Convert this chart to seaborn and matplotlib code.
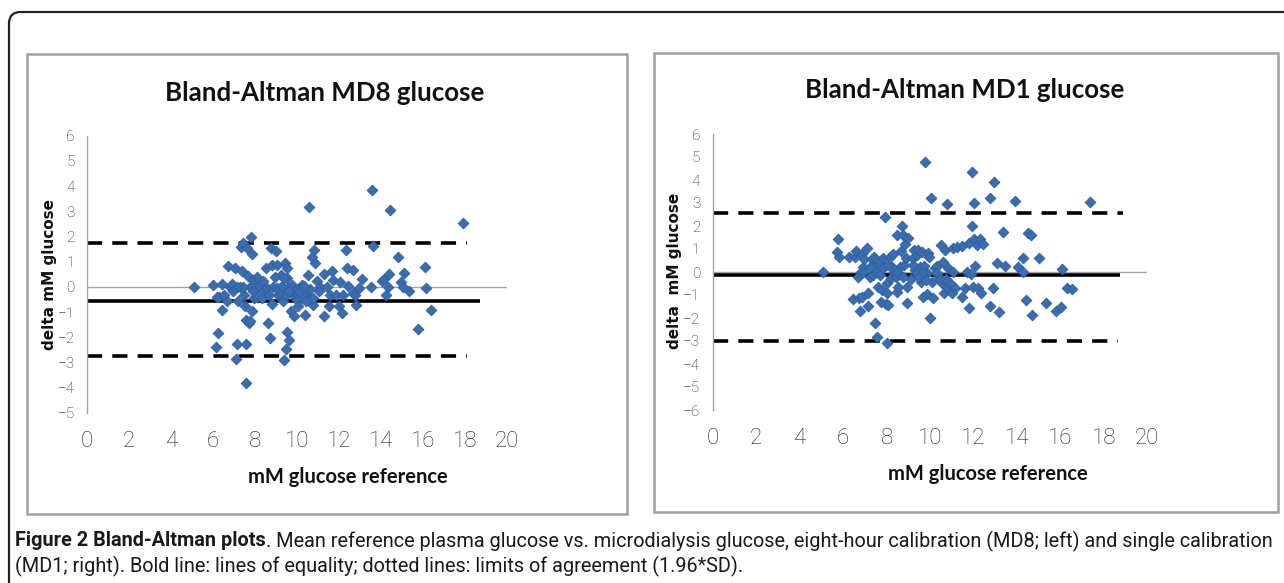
import numpy as np
import pandas as pd
import matplotlib
matplotlib.use("Agg")
import matplotlib.pyplot as plt
import seaborn as sns
from matplotlib.patches import FancyBboxPatch, Rectangle

# ---------------- data ----------------
md8_ref = [5.1, 6.0, 6.13, 6.26, 6.2, 6.3, 6.45, 6.45, 6.5, 6.65, 6.73, 6.8, 6.9, 7.05, 7.1, 7.13,
           7.2, 7.3, 7.32, 7.37, 7.42, 7.48, 7.53, 7.55, 7.57, 7.55, 7.6, 7.65, 7.73, 7.76, 7.81,
           7.84, 7.88, 7.92, 7.95, 8.08, 8.1, 8.24, 8.37, 8.51, 8.64, 8.72, 8.75, 8.8, 8.83, 8.95,
           9.0, 9.06, 9.11, 9.22, 9.32, 9.37, 9.43, 9.46, 9.5, 9.5, 9.54, 9.64, 9.7, 9.79, 9.86,
           9.98, 10.06, 10.14, 10.25, 10.38, 10.49, 10.54, 10.59, 10.7, 10.75, 10.81, 10.86, 10.94,
           11.1, 11.28, 11.28, 11.41, 11.52, 11.57, 11.65, 11.73, 11.85, 12.01, 12.07, 12.12, 12.2,
           12.33, 12.39, 12.41, 12.65, 12.68, 12.8, 12.76, 12.96, 13.1, 13.55, 13.52, 13.6, 14.07,
           14.14, 14.22, 14.31, 14.36, 14.42, 14.79, 14.93, 15.06, 15.09, 15.34, 15.77, 16.09,
           16.12, 16.4, 17.91,
           8.16, 8.4, 8.56, 8.87, 9.19, 9.35, 9.59, 9.75, 9.9, 10.22, 10.3, 10.42, 10.62, 10.78,
           11.03, 7.77, 7.45, 7.13, 6.97, 7.92, 8.32, 8.68, 9.03, 9.27, 9.38, 9.48, 9.64, 9.98,
           10.1, 10.33]
md8_delta = [0.0, 0.07, -2.39, -1.82, -0.4, -0.4, 0.12, -0.92, -0.3, -0.57, 0.85, 0.0, 0.1, 0.75,
             -2.84, -2.26, -0.57, 0.0, 1.57, 0.62, 1.74, -0.3, -0.77, -3.8, -2.26, -1.32, 1.55,
             0.42, -1.43, -1.36, 1.98, 1.31, -0.96, 0.26, -0.44, 0.4, -0.4, 0.12, 0.22, 0.75,
             -1.43, -2.02, 1.55, 0.88, -0.67, 0.4, 1.41, 0.88, -0.3, 0.49, -0.04, -2.88, 0.95,
             -2.46, 0.75, -1.78, 0.36, -2.11, -0.96, -0.3, -1.16, -0.5, -0.77, -0.04, 0.09, -1.1,
             -0.3, 0.46, 3.16, 1.18, -0.73, 1.48, 0.95, 0.22, 0.0, -1.14, 0.52, 0.0, -0.77, -0.3,
             0.62, 0.29, -0.3, -0.77, 0.2, -1.03, -0.3, 1.48, 0.75, 0.05, 0.69, -0.24, -0.73, -0.3,
             -0.04, 0.33, 3.83, 0.0, 1.64, 0.22, 0.33, -0.33, 0.0, 0.53, 3.04, 1.18, 0.2, 0.0, 0.55,
             -0.15, -1.65, 0.79, -0.04, -0.9, 2.54,
             0.0, -0.17, -0.04, 0.0, -0.24, -0.57, -0.04, 0.09, -0.17, -0.44, -0.3, -0.57, -0.1,
             -0.44, -0.17, 0.0, 0.0, 0.0, -0.17, -0.17, -0.44, -0.3, -0.04, 0.03, 0.36, -0.3, -0.17,
             -0.1, -0.2, 0.03]

md1_ref = [5.09, 5.75, 5.74, 5.83, 6.29, 6.47, 6.55, 6.6, 6.7, 6.75, 6.78, 6.81, 6.85, 6.88, 6.93,
           6.98, 7.12, 7.16, 7.16, 7.24, 7.32, 7.36, 7.42, 7.48, 7.55, 7.59, 7.62, 7.7, 7.73, 7.77,
           7.85, 7.93, 7.96, 8.0, 8.0, 8.04, 8.07, 8.16, 8.19, 8.31, 8.36, 8.42, 8.47, 8.5, 8.54,
           8.62, 8.65, 8.73, 8.74, 8.8, 8.85, 8.9, 8.93, 8.96, 9.0, 9.11, 9.2, 9.26, 9.31, 9.39,
           9.46, 9.54, 9.59, 9.62, 9.66, 9.72, 9.77, 9.85, 9.88, 9.92, 9.97, 10.0, 10.03, 10.08,
           10.15, 10.23, 10.31, 10.43, 10.51, 10.55, 10.6, 10.64, 10.69, 10.77, 10.8, 10.84, 10.92,
           11.0, 11.04, 11.07, 11.15, 11.23, 11.46, 11.46, 11.61, 11.69, 11.8, 11.81, 11.87, 11.91,
           11.93, 11.96, 12.02, 12.03, 12.07, 12.15, 12.22, 12.3, 12.33, 12.42, 12.76, 12.76, 12.91,
           12.94, 13.07, 13.16, 13.34, 13.47, 13.91, 14.03, 14.26, 14.28, 14.42, 14.49, 14.63,
           14.68, 15.0, 15.32, 15.78, 16.01, 16.06, 16.29, 16.52, 17.36,
           7.42, 7.55, 7.7, 7.85, 8.23, 8.47, 9.39, 9.51, 9.69, 9.82, 10.31, 10.46, 10.74, 6.93,
           7.24, 8.08, 8.77, 9.23]
md1_delta = [0.01, 1.42, 0.86, 0.67, 0.67, -1.19, 0.67, 0.93, -0.2, -1.14, -1.7, 0.01, -1.07, 0.78,
             0.23, 0.55, 1.03, -0.9, -1.46, -0.2, 0.55, -0.13, 0.64, -2.23, -2.81, 0.19, -0.64,
             0.41, -1.29, -0.78, 0.59, 2.41, -1.41, -3.07, -0.49, -0.93, -1.43, 0.67, -0.28, 0.78,
             0.01, -0.2, -0.86, 1.61, -0.64, 0.23, 0.91, 2.0, 1.61, 0.3, 1.22, 0.59, -0.67, -1.36,
             1.46, -0.32, 0.59, 0.96, 0.09, 0.74, 0.96, 0.23, -0.45, 0.88, -1.07, 0.26, 4.78, -0.06,
             -0.96, 0.84, 0.64, -2.01, 3.22, -0.42, -1.14, 0.16, 0.26, -0.2, 1.17, -0.49, 0.45, -0.93,
             0.96, -0.71, 2.94, 0.16, -0.49, -0.93, 1.03, 0.01, -0.71, 1.1, 1.13, -1.07, -0.71, 0.01,
             -1.55, 1.28, -0.09, 4.36, 2.0, -0.64, 1.42, 2.99, 0.26, 1.17, -0.71, 1.42, -0.93, 1.22,
             -1.48, 3.23, -0.71, 3.9, 0.38, -1.75, 1.72, 0.26, 3.09, 0.23, 0.59, 0.01, -1.22, 1.71,
             1.61, -1.87, 0.62, -1.36, -1.68, -1.51, 0.13, -0.71, -0.75, 3.06,
             0.23, 0.01, -0.13, 0.16, 0.23, 0.01, -0.06, -0.2, 0.01, -0.35, -0.06, -0.35, -0.32, 0.01,
             0.23, 0.3, -0.2, 0.3]

md8_mean, md8_upper, md8_lower = -0.57, 1.74, -2.75
md1_mean, md1_upper, md1_lower = -0.14, 2.57, -3.0

x_ticks = [0, 2, 4, 6, 8, 10, 12, 14, 16, 18, 20]
md8_yticks = [-5, -4, -3, -2, -1, 0, 1, 2, 3, 4, 5, 6]
md1_yticks = [-6, -5, -4, -3, -2, -1, 0, 1, 2, 3, 4, 5, 6]

titles = ["Bland-Altman MD8 glucose", "Bland-Altman MD1 glucose"]
xlabel = "mM glucose reference"
ylabels = ["delta mM glucose", "delta  mM glucose"]
cap_bold = "Figure 2 Bland-Altman plots"
cap_rest1 = ". Mean reference plasma glucose vs. microdialysis glucose, eight-hour calibration (MD8; left) and single calibration"
cap_line2 = "(MD1; right). Bold line: lines of equality; dotted lines: limits of agreement (1.96*SD)."

# ---------------- style ----------------
sns.set_style("white")
BODY = ["Roboto", "DejaVu Sans"]
TITLEF = ["Lato", "DejaVu Sans"]
plt.rcParams["font.family"] = BODY

W, H = 1284, 583
fig = plt.figure(figsize=(W / 100, H / 100), dpi=100)


def fx(x):
    return x / W


def fy(y):
    return 1 - y / H


# outer rounded frame
frame = FancyBboxPatch((fx(9), fy(600)), fx(1300), fy(12) - fy(600),
                       boxstyle="round,pad=0,rounding_size=0.009",
                       transform=fig.transFigure, fill=False, ec="#222222", lw=1.6,
                       clip_on=False, mutation_aspect=W / H)
fig.patches.append(frame)

# panel boxes
for (x0, y0, x1, y1) in [(27, 54, 627, 514), (654, 53, 1278, 512)]:
    fig.patches.append(Rectangle((fx(x0), fy(y1)), fx(x1 - x0), fy(y0) - fy(y1),
                                 transform=fig.transFigure, fill=False,
                                 ec="#A0A0A0", lw=1.8))

panels = [
    dict(pos=[fx(87), fy(413), fx(507 - 87), fy(135.7) - fy(413)], ref=md8_ref, d=md8_delta,
         mean=md8_mean, up=md8_upper, lo=md8_lower, ylim=(-5, 6), yt=md8_yticks,
         mean_end=18.7, up_end=18.1, lo_end=18.1,
         title_xy=(325, 93), xl_xy=(348, 477), yl_xy=(50, 275)),
    dict(pos=[fx(712.7), fy(410), fx(1147.3 - 712.7), fy(134) - fy(410)], ref=md1_ref, d=md1_delta,
         mean=md1_mean, up=md1_upper, lo=md1_lower, ylim=(-6, 6), yt=md1_yticks,
         mean_end=18.75, up_end=18.9, lo_end=18.67,
         title_xy=(965, 90), xl_xy=(988, 474), yl_xy=(675, 271)),
]

for i, p in enumerate(panels):
    ax = fig.add_axes(p["pos"])
    ax.set_facecolor("none")
    df = pd.DataFrame({"ref": p["ref"], "delta": p["d"]})
    ax.axhline(0, color="#A6A6A6", lw=1.0, zorder=1)
    ax.plot([0, p["mean_end"]], [p["mean"], p["mean"]], color="black", lw=2.6, zorder=2,
            solid_capstyle="butt")
    ax.plot([0, p["up_end"]], [p["up"], p["up"]], color="black", lw=2.6, zorder=2,
            dashes=(4.2, 2.8))
    ax.plot([0, p["lo_end"]], [p["lo"], p["lo"]], color="black", lw=2.6, zorder=2,
            dashes=(4.2, 2.8))
    sns.scatterplot(data=df, x="ref", y="delta", ax=ax, marker="D", s=30,
                    color="#3A6DB0", edgecolor="#2F5F9E", linewidth=0.6, zorder=3)
    ax.set_xlim(0, 20)
    ax.set_ylim(*p["ylim"])
    ax.set_xticks(x_ticks)
    ax.set_yticks(p["yt"])
    ax.set_xlabel("")
    ax.set_ylabel("")
    for s in ["top", "right", "bottom"]:
        ax.spines[s].set_visible(False)
    ax.spines["left"].set_color("#A6A6A6")
    ax.spines["left"].set_linewidth(1.0)
    ax.tick_params(axis="x", length=0, pad=13, labelsize=16, labelcolor="#222222")
    ax.tick_params(axis="y", length=0, pad=9, labelsize=11, labelcolor="#222222")
    for lab in ax.get_xticklabels() + ax.get_yticklabels():
        lab.set_fontweight("light")

    fig.text(fx(p["title_xy"][0]), fy(p["title_xy"][1]), titles[i], ha="center", va="center",
             fontsize=18.6, fontweight="bold", family=TITLEF, color="#111111")
    fig.text(fx(p["xl_xy"][0]), fy(p["xl_xy"][1]), xlabel, ha="center", va="center",
             fontsize=14.5, fontweight="bold", family=TITLEF, color="#111111")
    fig.text(fx(p["yl_xy"][0]), fy(p["yl_xy"][1]), ylabels[i], ha="center", va="center",
             rotation=90, fontsize=11, fontweight="bold", family=["DejaVu Sans"], color="#111111")

# caption
capsize = 14.3
t1 = fig.text(fx(15), fy(541), cap_bold, ha="left", va="center", fontsize=capsize,
              fontweight="bold", color="#1a1a1a")
fig.canvas.draw()
bb = t1.get_window_extent(renderer=fig.canvas.get_renderer())
fig.text(bb.x1 / W, fy(541), cap_rest1, ha="left", va="center", fontsize=capsize, color="#1a1a1a")
fig.text(fx(15), fy(566), cap_line2, ha="left", va="center", fontsize=capsize, color="#1a1a1a")

fig.savefig("out.png", dpi=100)
